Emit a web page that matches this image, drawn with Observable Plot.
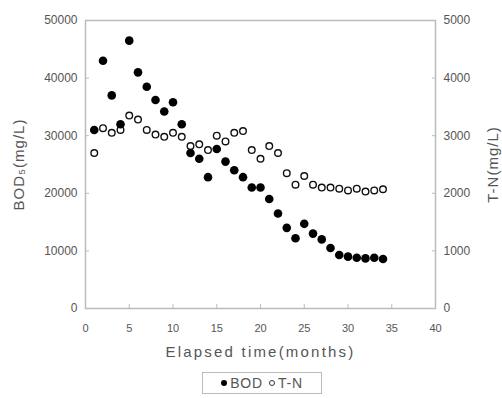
<!DOCTYPE html>
<html>
<head>
<meta charset="utf-8">
<script src="https://cdn.jsdelivr.net/npm/d3@7"></script>
<script src="https://cdn.jsdelivr.net/npm/@observablehq/plot@0.6"></script>
<style>
  body { margin: 0; background: #fff; font-family: "Liberation Sans", "DejaVu Sans", sans-serif; }
  #chart { width: 502px; }
  .legend { margin: 8px 0 0 202px; width: 120px; height: 22px; border: 1px solid #bbb; box-sizing: border-box;
            display: flex; align-items: center; justify-content: center; gap: 6px; font-size: 14px; color: #555; letter-spacing: 0.8px; }
  .legend span { display: inline-flex; align-items: center; gap: 3px; }
  .sw { display: inline-block; width: 6px; height: 6px; border-radius: 50%; box-sizing: border-box; }
</style>
</head>
<body>
<div id="chart"></div>
<script>
const months = [1,2,3,4,5,6,7,8,9,10,11,12,13,14,15,16,17,18,19,20,21,22,23,24,25,26,27,28,29,30,31,32,33,34];
const bod = [31000,43000,37000,32000,46500,41000,38500,36200,34200,35800,32000,27000,26000,22800,27700,25500,24000,22800,21000,21000,19000,16500,14000,12200,14700,13000,12000,10500,9300,9000,8800,8700,8800,8600];
const tn = [2700,3130,3050,3100,3350,3280,3100,3020,2980,3050,2980,2820,2850,2750,3000,2900,3050,3080,2750,2600,2820,2700,2350,2150,2300,2150,2100,2100,2080,2050,2080,2030,2050,2070];
const xTicks = [0,5,10,15,20,25,30,35,40];
const yTicks = [0,10000,20000,30000,40000,50000];
const tnTicks = [0,1000,2000,3000,4000,5000];
const seriesNames = ["BOD", "T-N"];

const bodData = months.map((m, i) => ({month: m, value: bod[i]}));
const tnData = months.map((m, i) => ({month: m, value: tn[i] * 10}));

const chart = Plot.plot({
  width: 502,
  height: 364,
  marginLeft: 85,
  marginRight: 67,
  marginTop: 20,
  marginBottom: 56,
  style: {fontFamily: "Liberation Sans, DejaVu Sans, sans-serif", fontSize: "11px", color: "#555"},
  x: {domain: [0, 40]},
  y: {domain: [0, 50000]},
  marks: [
    Plot.frame({stroke: "#bbb", strokeWidth: 1.5}),
    Plot.axisX({ticks: xTicks, tickSize: -4, stroke: "#bbb", tickPadding: 20, label: "Elapsed time(months)", labelAnchor: "center", labelOffset: 48, labelArrow: "none"}),
    Plot.axisY({ticks: yTicks, tickSize: -4, stroke: "#bbb", tickPadding: 12, tickFormat: d => String(d), label: "BOD\u2085(mg/L)", labelAnchor: "center", labelOffset: 72, labelArrow: "none", fontSize: 12}),
    Plot.axisY({anchor: "right", ticks: tnTicks.map(d => d * 10), tickSize: -4, stroke: "#bbb", tickPadding: 12, tickFormat: d => String(d / 10), label: "T-N(mg/L)", labelAnchor: "center", labelOffset: 62, labelArrow: "none", fontSize: 12}),
    Plot.dot(tnData, {x: "month", y: "value", r: 3.3, stroke: "#111", strokeWidth: 1.4, fill: "#fff"}),
    Plot.dot(bodData, {x: "month", y: "value", r: 4.3, fill: "#000"})
  ]
});
document.getElementById("chart").appendChild(chart);

// enlarge axis titles
chart.querySelectorAll("g[aria-label$='axis label']").forEach(g => {
  const isX = g.getAttribute("aria-label").startsWith("x");
  g.setAttribute("font-size", "15");
  g.setAttribute("letter-spacing", isX ? "2.2" : "1");
});

const legend = document.createElement("div");
legend.className = "legend";
legend.innerHTML = `<span><i class="sw" style="background:#000"></i>${seriesNames[0]}</span><span><i class="sw" style="border:1.3px solid #333"></i>${seriesNames[1]}</span>`;
document.getElementById("chart").appendChild(legend);
</script>
</body>
</html>
